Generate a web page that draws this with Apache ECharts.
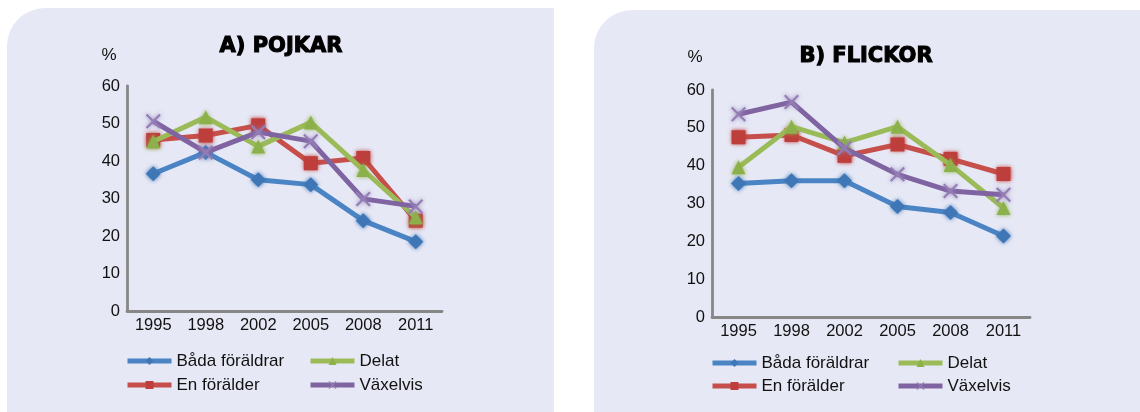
<!DOCTYPE html>
<html>
<head>
<meta charset="utf-8">
<title>Boendeform – pojkar och flickor</title>
<script src="https://cdn.jsdelivr.net/npm/echarts@6/dist/echarts.min.js"></script>
<style>
  html, body { margin: 0; padding: 0; background: #ffffff; }
  #chart { width: 1140px; height: 412px; }
</style>
</head>
<body>
<div id="chart"></div>
<script>
// Survey years on the category axis
const years = ['1995', '1998', '2002', '2005', '2008', '2011'];

// A) Pojkar, share in percent
const pojkarBada    = [36.6, 42.3, 35.0, 33.7, 24.1, 18.5];
const pojkarEn      = [45.6, 46.8, 49.5, 39.4, 40.8, 24.1];
const pojkarDelat   = [45.2, 51.7, 43.9, 50.3, 37.6, 25.0];
const pojkarVaxel   = [50.6, 42.3, 47.7, 45.3, 29.9, 27.9];

// B) Flickor, share in percent
const flickorBada   = [35.3, 36.0, 36.0, 29.2, 27.6, 21.4];
const flickorEn     = [47.5, 48.1, 42.6, 45.6, 41.8, 37.8];
const flickorDelat  = [39.6, 50.3, 46.1, 50.3, 40.2, 28.8];
const flickorVaxel  = [53.6, 56.8, 44.6, 37.7, 33.3, 32.3];

const seriesNames = ['Båda föräldrar', 'En förälder', 'Delat', 'Växelvis'];
const panelTitles = ['A) POJKAR', 'B) FLICKOR'];

const crossPath = 'path://M1,0 L5,4 L9,0 L10,1 L6,5 L10,9 L9,10 L5,6 L1,10 L0,9 L4,5 L0,1 Z';

const styles = [
  { line: '#4A84C4', marker: '#3F76B6', symbol: 'diamond', size: 15 },
  { line: '#C64F4C', marker: '#BE3E3C', symbol: 'rect', size: 14 },
  { line: '#9BBB59', marker: '#8DB14A', symbol: 'triangle', size: 14 },
  { line: '#8064A2', marker: '#937DB4', symbol: crossPath, size: 15 }
];

const labelFont = '"Liberation Sans", Arial, sans-serif';
const axisColor = '#878787';

const panels = [
  { grid: { left: 127, top: 86, width: 315, height: 225 },
    data: [pojkarBada, pojkarEn, pojkarDelat, pojkarVaxel],
    title: { x: 281, y: 47 }, pct: { x: 109, y: 55 },
    legendCols: [125, 308], legendRows: [361, 385] },
  { grid: { left: 712, top: 90, width: 318, height: 227 },
    data: [flickorBada, flickorEn, flickorDelat, flickorVaxel],
    title: { x: 866, y: 57 }, pct: { x: 695, y: 57 },
    legendCols: [710, 896], legendRows: [363, 386] }
];

const grids = [], xAxes = [], yAxes = [], series = [], legends = [], graphics = [];

// Rounded lavender backgrounds behind each panel
graphics.push(
  { type: 'rect', z: -10, shape: { x: 7, y: 8, width: 547, height: 410, r: [38, 0, 0, 0] },
    style: { fill: '#E6E8F5' } },
  { type: 'rect', z: -10, shape: { x: 594, y: 10, width: 560, height: 410, r: [38, 0, 0, 0] },
    style: { fill: '#E6E8F5' } }
);

panels.forEach((p, i) => {
  grids.push(p.grid);
  xAxes.push({
    type: 'category', gridIndex: i, data: years, boundaryGap: true,
    axisLine: { lineStyle: { color: axisColor, width: 2.8 } },
    axisTick: { show: false },
    axisLabel: { color: '#111', fontFamily: labelFont, fontSize: 16.5, margin: 6 }
  });
  yAxes.push({
    type: 'value', gridIndex: i, min: 0, max: 60, interval: 10,
    axisLine: { show: true, lineStyle: { color: axisColor, width: 2.8 } },
    axisTick: { show: false },
    splitLine: { show: false },
    axisLabel: { color: '#111', fontFamily: labelFont, fontSize: 16.5, margin: 7 }
  });

  seriesNames.forEach((name, k) => {
    const s = styles[k];
    series.push({
      name, type: 'line', xAxisIndex: i, yAxisIndex: i,
      data: p.data[k],
      symbol: s.symbol, symbolSize: s.size,
      lineStyle: { color: s.line, width: 5 },
      itemStyle: { color: s.marker, shadowBlur: 4, shadowColor: s.marker },
      emphasis: { disabled: true },
      z: 2 + k
    });
  });

  // Two-column legend, one component per entry
  const order = [[0, 0, 0], [1, 0, 1], [2, 1, 0], [3, 1, 1]];
  order.forEach(([k, col, row]) => {
    legends.push({
      data: [seriesNames[k]],
      left: p.legendCols[col], top: p.legendRows[row] - 9,
      itemWidth: 44, itemHeight: 10, padding: 0,
      selectedMode: false,
      lineStyle: { width: 5 },
      itemStyle: { shadowBlur: 0 },
      textStyle: { color: '#111', fontFamily: labelFont, fontSize: 17, lineHeight: 18 }
    });
  });

  graphics.push({
    type: 'text', x: p.title.x, y: p.title.y,
    style: { text: panelTitles[i], fill: '#000', stroke: '#000', lineWidth: 1.1,
             align: 'center', verticalAlign: 'middle',
             font: 'bold 21px "DejaVu Sans", sans-serif' }
  });
  graphics.push({
    type: 'text', x: p.pct.x, y: p.pct.y,
    style: { text: '%', fill: '#111', align: 'center', verticalAlign: 'middle',
             font: '17px "Liberation Sans", Arial, sans-serif' }
  });
});

const chart = echarts.init(document.getElementById('chart'), null, { renderer: 'canvas' });
chart.setOption({
  backgroundColor: '#ffffff',
  animation: false,
  grid: grids,
  xAxis: xAxes,
  yAxis: yAxes,
  legend: legends,
  graphic: graphics,
  series
});
</script>
</body>
</html>
